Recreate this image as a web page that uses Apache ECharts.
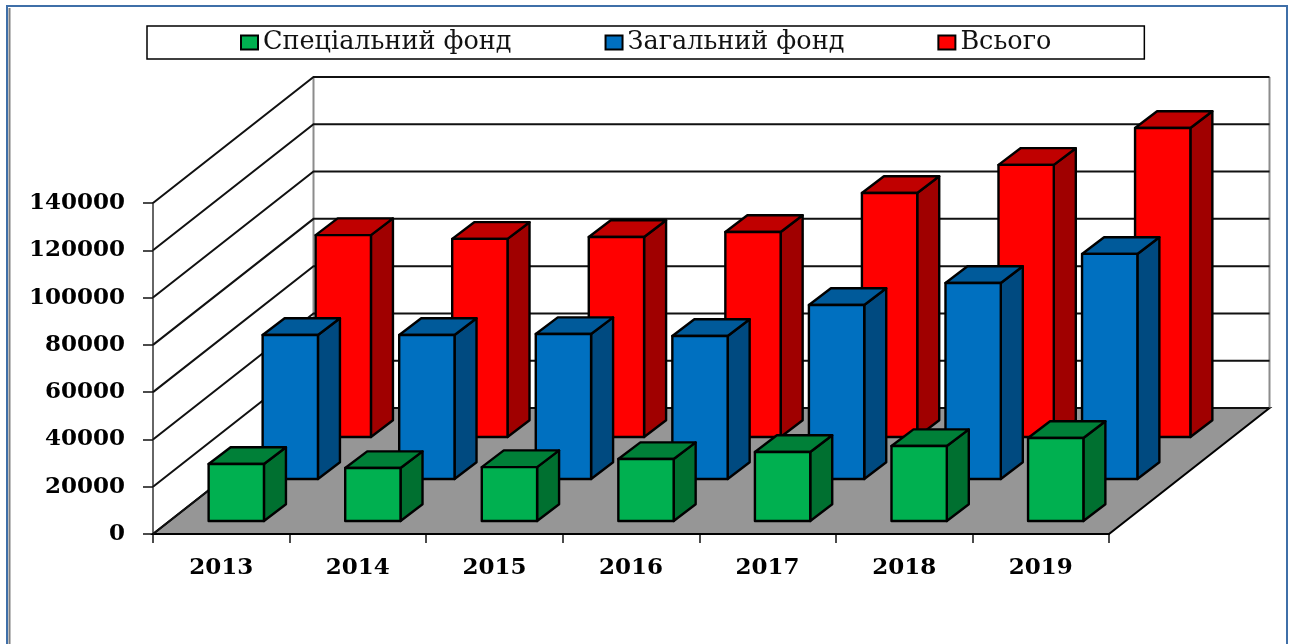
<!DOCTYPE html>
<html>
<head>
<meta charset="utf-8">
<style>html,body{margin:0;padding:0;background:#fff}#chart{width:1294px;height:644px}</style>
<script src="https://cdn.jsdelivr.net/npm/echarts@6/dist/echarts.min.js"></script>
</head>
<body>
<div id="chart"></div>
<script>
const years = ['2013', '2014', '2015', '2016', '2017', '2018', '2019'];
const specialFund = [24100, 22400, 22800, 26200, 29200, 31700, 35100];
const generalFund = [60900, 60900, 61300, 60500, 73600, 82900, 95200];
const totalFund = [85400, 83800, 84600, 86700, 103200, 115100, 130700];
const wallTicks = [0, 20000, 40000, 60000, 80000, 100000, 120000, 140000];

// depth of the fake 3d box, pixels
const DEPTH_X = 160.5, DEPTH_Y = -126;
const BAR_DX = 22, BAR_DY = -16.7;
const FONT = '"DejaVu Serif"';

function barItem(color, top, side, shiftX, shiftY) {
  return function (params, api) {
    const base = api.coord([api.value(0), 0]);
    const head = api.coord([api.value(0), api.value(1)]);
    const w = api.size([1, 0])[0] * 0.405;
    const x0 = base[0] + shiftX - w / 2, x1 = x0 + w;
    const y0 = base[1] + shiftY, y1 = head[1] + shiftY;
    const line = { stroke: '#000', lineWidth: 2.4, lineJoin: 'round' };
    return {
      type: 'group',
      children: [
        { type: 'polygon', shape: { points: [[x1, y0], [x1 + BAR_DX, y0 + BAR_DY], [x1 + BAR_DX, y1 + BAR_DY], [x1, y1]] }, style: { fill: side, ...line } },
        { type: 'polygon', shape: { points: [[x0, y1], [x1, y1], [x1 + BAR_DX, y1 + BAR_DY], [x0 + BAR_DX, y1 + BAR_DY]] }, style: { fill: top, ...line } },
        { type: 'rect', shape: { x: x0, y: y1, width: w, height: y0 - y1 }, style: { fill: color, ...line } }
      ]
    };
  };
}

function barSeries(name, values, color, top, side, shiftX, shiftY) {
  return {
    name: name,
    type: 'custom',
    coordinateSystem: 'cartesian2d',
    itemStyle: { color: color },
    encode: { x: 0, y: 1 },
    data: values.map((v, i) => [i, v]),
    renderItem: barItem(color, top, side, shiftX, shiftY),
    z: 5
  };
}

function floorItem(params, api) {
  const box = params.coordSys;
  const y = api.coord([0, 0])[1];
  const xl = box.x, xr = box.x + box.width;
  return {
    type: 'polygon',
    shape: { points: [[xl, y], [xr, y], [xr + DEPTH_X, y + DEPTH_Y], [xl + DEPTH_X, y + DEPTH_Y]] },
    style: { fill: '#969696', stroke: '#000', lineWidth: 2 }
  };
}

function wallItem(params, api) {
  const box = params.coordSys;
  const y = api.coord([0, api.value(0)])[1];
  const xl = box.x, xr = box.x + box.width;
  return {
    type: 'polyline',
    shape: { points: [[xl, y], [xl + DEPTH_X, y + DEPTH_Y], [xr + DEPTH_X, y + DEPTH_Y]] },
    style: { fill: null, stroke: '#111', lineWidth: 2 }
  };
}

function wallEdges(params, api) {
  const box = params.coordSys;
  const y0 = api.coord([0, 0])[1] + DEPTH_Y, y1 = box.y + DEPTH_Y;
  const lx = box.x + DEPTH_X, rx = box.x + box.width + DEPTH_X;
  const st = { stroke: '#8c8c8c', lineWidth: 2 };
  return {
    type: 'group',
    children: [
      { type: 'line', shape: { x1: lx, y1: y0, x2: lx, y2: y1 }, style: st },
      { type: 'line', shape: { x1: rx, y1: y0, x2: rx, y2: y1 }, style: st }
    ]
  };
}

const chart = echarts.init(document.getElementById('chart'));
chart.setOption({
  animation: false,
  backgroundColor: '#fff',
  graphic: [
    { type: 'polyline', shape: { points: [[7, 644], [7, 6], [1287, 6], [1287, 644]] }, style: { fill: null, stroke: '#3f6fa8', lineWidth: 2 } },
    { type: 'line', shape: { x1: 9.5, y1: 8, x2: 9.5, y2: 644 }, style: { stroke: '#7f7f7f', lineWidth: 2 } }
  ],
  legend: {
    left: 147,
    top: 26,
    padding: [3.5, 93, 3.5, 93],
    itemGap: 93,
    itemWidth: 17,
    itemHeight: 14,
    borderColor: '#000',
    borderWidth: 1.5,
    icon: 'rect',
    itemStyle: { borderColor: '#000', borderWidth: 2 },
    textStyle: { fontFamily: FONT, fontSize: 25.5, color: '#111' },
    data: ['Спеціальний фонд', 'Загальний фонд', 'Всього']
  },
  grid: { left: 153, right: 185, top: 203, bottom: 110 },
  xAxis: {
    type: 'category',
    data: years,
    axisLine: { lineStyle: { color: '#111', width: 2 } },
    axisTick: { show: true, alignWithLabel: false, length: 9, lineStyle: { color: '#111', width: 1.5 } },
    axisLabel: { margin: 23, fontFamily: FONT, fontWeight: 'bold', fontSize: 23, color: '#000' }
  },
  yAxis: {
    type: 'value',
    min: 0,
    max: 140000,
    interval: 20000,
    splitLine: { show: false },
    axisLine: { show: true, lineStyle: { color: '#666', width: 2 } },
    axisTick: { show: true, length: 10, lineStyle: { color: '#111', width: 1.5 } },
    axisLabel: { margin: 28, padding: [6, 0, 0, 0], fontFamily: FONT, fontWeight: 'bold', fontSize: 23, color: '#000', formatter: v => String(v) }
  },
  series: [
    { type: 'custom', coordinateSystem: 'cartesian2d', data: [0], renderItem: floorItem, z: 1, silent: true },
    { type: 'custom', coordinateSystem: 'cartesian2d', data: [0], renderItem: wallEdges, z: 1, silent: true },
    { type: 'custom', coordinateSystem: 'cartesian2d', data: wallTicks.map(v => [v]), encode: { y: 0 }, renderItem: wallItem, z: 1, silent: true },
    barSeries('Всього', totalFund, '#FF0000', '#C00000', '#A00000', 122, -97),
    barSeries('Загальний фонд', generalFund, '#0070C0', '#005A9A', '#004A80', 69, -55),
    barSeries('Спеціальний фонд', specialFund, '#00B050', '#008038', '#007030', 15, -13)
  ]
});
</script>
</body>
</html>
